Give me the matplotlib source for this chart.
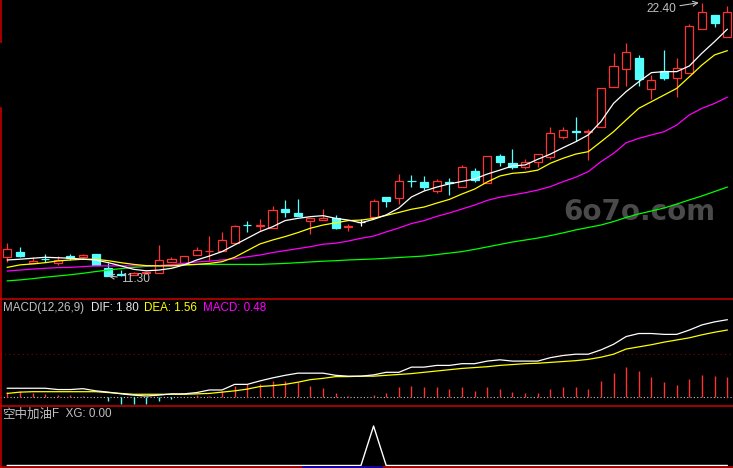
import numpy as np
import matplotlib.pyplot as plt
from matplotlib.patches import Rectangle
from matplotlib.lines import Line2D

# Daily candles
opens = [12.08, 12.29, 11.84, 12.00, 11.81, 12.11, 12.06, 12.19, 11.61, 11.36,
         11.34, 11.41, 11.43, 11.88, 11.84, 12.14, 12.31, 12.33, 12.63, 13.39,
         13.33, 13.26, 14.02, 13.86, 13.52, 13.56, 13.65, 13.29, 13.50, 13.68,
         14.50, 14.48, 15.17, 15.10, 14.76, 15.11, 14.93, 15.55, 15.06, 16.17,
         15.88, 15.71, 15.94, 16.15, 16.96, 17.17, 17.15, 17.34, 18.99, 19.70,
         20.17, 18.88, 19.63, 19.33, 19.53, 21.32, 21.90, 21.02]
highs = [12.65, 12.49, 12.06, 12.19, 12.11, 12.19, 12.19, 12.21, 11.81, 11.54,
         11.45, 11.49, 12.56, 12.06, 12.12, 12.49, 12.92, 13.10, 13.37, 13.55,
         13.61, 14.14, 14.39, 14.43, 13.65, 14.01, 13.78, 13.41, 13.60, 14.41,
         14.50, 15.44, 15.40, 15.36, 15.23, 15.27, 15.81, 15.70, 16.17, 16.25,
         16.45, 16.04, 16.24, 17.36, 17.36, 17.77, 17.27, 18.92, 20.37, 20.75,
         20.27, 19.46, 20.48, 20.14, 21.54, 22.40, 21.90, 22.27]
lows = [11.88, 12.06, 11.81, 11.88, 11.75, 11.95, 12.00, 11.75, 11.30, 11.31,
        11.33, 11.39, 11.43, 11.88, 11.84, 12.14, 11.95, 12.33, 12.63, 13.10,
        13.13, 13.26, 13.68, 13.75, 12.99, 13.56, 13.20, 13.14, 13.34, 13.64,
        14.11, 14.22, 14.90, 14.79, 14.66, 14.59, 14.90, 15.13, 15.06, 15.78,
        15.63, 15.63, 15.74, 16.04, 16.85, 16.78, 16.01, 17.34, 18.99, 19.02,
        19.02, 18.48, 19.26, 18.58, 19.53, 21.32, 21.43, 21.02]
closes = [12.38, 12.12, 11.92, 11.98, 11.95, 12.04, 12.15, 11.75, 11.31, 11.34,
          11.43, 11.47, 11.95, 11.98, 12.11, 12.35, 12.33, 12.76, 13.33, 13.36,
          13.36, 13.98, 13.91, 13.75, 13.65, 13.65, 13.26, 13.31, 13.50, 14.35,
          14.36, 15.16, 15.14, 14.90, 15.15, 15.09, 15.71, 15.20, 16.17, 15.94,
          15.74, 15.92, 16.24, 17.10, 17.23, 17.15, 17.17, 18.92, 19.83, 20.39,
          19.30, 19.26, 19.35, 19.74, 21.45, 22.01, 21.59, 22.01]

# Moving averages
ma5 = [11.95, 11.98, 12.02, 12.06, 12.04, 12.02, 11.98, 11.95, 11.84, 11.71,
       11.57, 11.51, 11.54, 11.61, 11.75, 11.95, 12.11, 12.29, 12.56, 12.83,
       13.10, 13.30, 13.55, 13.64, 13.71, 13.75, 13.64, 13.57, 13.46, 13.60,
       13.78, 14.06, 14.51, 14.75, 14.91, 15.04, 15.14, 15.24, 15.44, 15.60,
       15.77, 15.81, 16.04, 16.25, 16.51, 16.75, 17.03, 17.57, 18.31, 18.79,
       19.19, 19.56, 19.60, 19.60, 19.83, 20.35, 20.82, 21.32]
ma10 = [11.65, 11.75, 11.79, 11.84, 11.91, 11.95, 11.98, 11.98, 11.92, 11.84,
        11.77, 11.72, 11.71, 11.71, 11.75, 11.77, 11.81, 11.88, 12.06, 12.33,
        12.60, 12.76, 12.90, 13.06, 13.24, 13.37, 13.46, 13.55, 13.57, 13.64,
        13.76, 13.88, 14.01, 14.10, 14.26, 14.41, 14.63, 14.83, 15.12, 15.36,
        15.47, 15.51, 15.60, 15.88, 16.08, 16.25, 16.35, 16.75, 17.16, 17.64,
        18.11, 18.38, 18.65, 18.92, 19.39, 19.87, 20.28, 20.45]
ma20 = [11.50, 11.54, 11.58, 11.61, 11.64, 11.65, 11.68, 11.71, 11.71, 11.71,
        11.71, 11.71, 11.72, 11.76, 11.81, 11.87, 11.90, 11.95, 12.00, 12.08,
        12.15, 12.25, 12.33, 12.41, 12.49, 12.59, 12.63, 12.72, 12.83, 12.92,
        13.09, 13.25, 13.43, 13.55, 13.72, 13.86, 14.02, 14.18, 14.37, 14.50,
        14.59, 14.68, 14.79, 14.93, 15.13, 15.31, 15.54, 15.94, 16.28, 16.71,
        16.89, 17.03, 17.16, 17.43, 17.84, 18.11, 18.31, 18.56]
ma60 = [11.10, 11.14, 11.19, 11.25, 11.30, 11.35, 11.41, 11.48, 11.54, 11.60,
        11.65, 11.69, 11.72, 11.73, 11.75, 11.77, 11.77, 11.77, 11.77, 11.77,
        11.77, 11.79, 11.81, 11.84, 11.87, 11.90, 11.92, 11.95, 11.97, 11.99,
        12.02, 12.05, 12.08, 12.11, 12.17, 12.23, 12.29, 12.38, 12.48, 12.58,
        12.68, 12.76, 12.84, 12.94, 13.05, 13.17, 13.27, 13.37, 13.51, 13.68,
        13.82, 13.94, 14.06, 14.22, 14.39, 14.55, 14.73, 14.91]

# MACD(12,26,9)
dif = [0.21, 0.21, 0.21, 0.21, 0.18, 0.18, 0.20, 0.15, 0.12, 0.08,
       0.05, 0.03, 0.05, 0.08, 0.08, 0.11, 0.17, 0.17, 0.30, 0.30,
       0.38, 0.45, 0.51, 0.56, 0.56, 0.56, 0.51, 0.49, 0.49, 0.52,
       0.58, 0.58, 0.70, 0.70, 0.74, 0.74, 0.78, 0.78, 0.84, 0.87,
       0.84, 0.84, 0.84, 0.92, 0.97, 1.00, 1.00, 1.10, 1.23, 1.41,
       1.48, 1.48, 1.46, 1.46, 1.56, 1.68, 1.75, 1.80]
dea = [0.09, 0.12, 0.13, 0.13, 0.13, 0.13, 0.13, 0.13, 0.11, 0.09,
       0.07, 0.07, 0.07, 0.07, 0.07, 0.08, 0.09, 0.12, 0.15, 0.19,
       0.25, 0.27, 0.30, 0.35, 0.41, 0.44, 0.48, 0.48, 0.49, 0.49,
       0.51, 0.53, 0.55, 0.58, 0.61, 0.64, 0.67, 0.69, 0.71, 0.74,
       0.76, 0.78, 0.79, 0.81, 0.83, 0.85, 0.88, 0.93, 1.00, 1.12,
       1.17, 1.22, 1.28, 1.33, 1.38, 1.45, 1.51, 1.56]
macd = [0.13, 0.15, 0.11, 0.08, 0.05, 0.05, 0.02, 0.00, -0.09, -0.16,
        -0.16, -0.16, -0.09, -0.04, 0.00, 0.05, 0.03, 0.15, 0.26, 0.32,
        0.32, 0.38, 0.38, 0.35, 0.27, 0.21, 0.11, 0.04, 0.00, 0.05,
        0.11, 0.23, 0.27, 0.25, 0.23, 0.19, 0.23, 0.15, 0.23, 0.19,
        0.13, 0.11, 0.11, 0.19, 0.25, 0.23, 0.19, 0.38, 0.57, 0.71,
        0.60, 0.48, 0.36, 0.29, 0.42, 0.52, 0.50, 0.48]

# 空中加油F signal
xg = [0, 0, 0, 0, 0, 0, 0, 0, 0, 0,
      0, 0, 0, 0, 0, 0, 0, 0, 0, 0,
      0, 0, 0, 0, 0, 0, 0, 0, 0, 1,
      0, 0, 0, 0, 0, 0, 0, 0, 0, 0,
      0, 0, 0, 0, 0, 0, 0, 0, 0, 0,
      0, 0, 0, 0, 0, 0, 0, 0]

RED = '#ff3232'
CYAN = '#54ffff'
BORDER = '#c00000'
GRAY = '#c0c0c0'
W, H = 733, 468
n = len(closes)
x = np.arange(n)
xlim = (-7.3 / 12.63, (W - 7.3) / 12.63)

plt.rcParams['font.family'] = ['Liberation Sans', 'Noto Sans CJK SC', 'DejaVu Sans']

fig = plt.figure(figsize=(W / 100, H / 100), dpi=100, facecolor='black')
ax = fig.add_axes([0, 1 - 298.5 / H, 1, 298.5 / H])
ax2 = fig.add_axes([0, 1 - 406 / H, 1, 107 / H])
ax3 = fig.add_axes([0, 1 - 467 / H, 1, 61 / H])
for a in (ax, ax2, ax3):
    a.set_facecolor('black')
    a.set_xlim(*xlim)
    a.axis('off')

# ---- main panel ----
ax.set_ylim(22.51 - 0.04062 * 298.5, 22.51)
for i in range(n):
    o, h, l, c = opens[i], highs[i], lows[i], closes[i]
    if c > o:
        col, face = RED, 'black'
    elif c < o:
        col, face = CYAN, CYAN
    else:
        col, face = 'white', 'white'
    ax.vlines(x[i], l, h, color=col, lw=0.9, zorder=2)
    ax.add_patch(Rectangle((x[i] - 0.32, min(o, c)), 0.64, max(abs(c - o), 0.012),
                           facecolor=face, edgecolor=col, lw=0.9, zorder=3))

ax.plot(x, ma60, color='#00ff00', lw=0.9, zorder=4)
ax.plot(x, ma20, color='#ff00ff', lw=0.9, zorder=4)
ax.plot(x, ma10, color='#ffff00', lw=0.9, zorder=4)
ax.plot(x, ma5, color='white', lw=0.9, zorder=4)

ax.text(563 / W, 1 - 212.5 / 298.5, '6o7o.com', transform=ax.transAxes,
        fontsize=20, fontweight='bold', family='DejaVu Sans', color='#4a4a4a',
        ha='left', va='center', zorder=0)

hi = int(np.argmax(highs))
lo = int(np.argmin(lows))
ax.annotate(f'{highs[hi]:.2f}', xy=(hi - 0.25, highs[hi]), xytext=(-23, -6),
            textcoords='offset pixels', ha='right', va='center', fontsize=8.6,
            color=GRAY, arrowprops=dict(arrowstyle='->', color=GRAY, lw=0.8,
                                        shrinkA=1, shrinkB=0))
ax.annotate(f'{lows[lo]:.2f}', xy=(lo, lows[lo]), xytext=(13, -3),
            textcoords='offset pixels', ha='left', va='center', fontsize=8.6,
            color=GRAY, arrowprops=dict(arrowstyle='->', color=GRAY, lw=0.8,
                                        shrinkA=1, shrinkB=0))

# ---- MACD panel ----
ax2.set_ylim(-(406 - 397.3) / 43.1, (397.3 - 299) / 43.1)
ax2.axhline(0, color=GRAY, lw=0.8, ls=(0, (1, 2)))
ax2.axhline(1.0, color='#800000', lw=0.8, ls=(0, (1, 3)))
bar_colors = [RED if v >= 0 else CYAN for v in macd]
ax2.vlines(x, 0, macd, colors=bar_colors, lw=1.0)
ax2.plot(x, dea, color='#ffff00', lw=0.9)
ax2.plot(x, dif, color='white', lw=0.9)

fs = 8.4
ty = 1 - 308 / H
fig.text(2.7 / W, ty, 'MACD(12,26,9)', color=GRAY, fontsize=fs, va='center')
fig.text(90.7 / W, ty, f'DIF: {dif[-1]:.2f}', color='#e8e8e8', fontsize=fs, va='center')
fig.text(144.3 / W, ty, f'DEA: {dea[-1]:.2f}', color='#ffff00', fontsize=fs, va='center')
fig.text(203.3 / W, ty, f'MACD: {macd[-1]:.2f}', color='#ff00ff', fontsize=fs, va='center')

# ---- XG panel ----
ax3.set_ylim(-(467 - 465.5) / 39.5, (465.5 - 406) / 39.5)
ax3.plot(x, xg, color='white', lw=1.0)

ty3 = 1 - 414.3 / H
fig.text(1.7 / W, ty3, '空中加油', color=GRAY, fontsize=9, va='center',
         family=['Noto Sans CJK SC', 'DejaVu Sans'])
fig.text(52.3 / W, ty3, f'F  XG: {xg[-1]:.2f}', color=GRAY, fontsize=fs, va='center')

# ---- panel borders ----
def fig_line(x0, y0, x1, y1, color=BORDER, lw=1.2):
    fig.add_artist(Line2D([x0 / W, x1 / W], [1 - y0 / H, 1 - y1 / H],
                          transform=fig.transFigure, color=color, lw=lw))

fig_line(0, 299, W, 299)
fig_line(0, 406.3, W, 406.3)
fig_line(0, 467, W, 467)
fig_line(1, 0, 1, 42)
fig_line(1, 108, 1, H)
fig_line(303, 467, 382, 467, color='#0000c0')

fig.savefig('out.png', dpi=100, facecolor='black')
